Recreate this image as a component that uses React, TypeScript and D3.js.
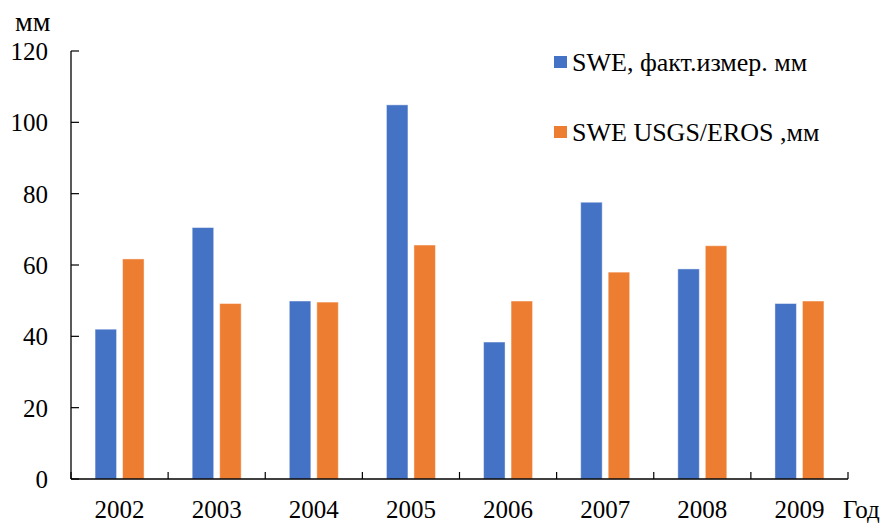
import * as d3 from "d3";

const years = ["2002", "2003", "2004", "2005", "2006", "2007", "2008", "2009"];
const sweMeasured = [42, 70.5, 49.9, 104.9, 38.4, 77.6, 58.9, 49.2];
const sweUsgs = [61.7, 49.2, 49.6, 65.6, 49.9, 58.0, 65.4, 49.9];
const yTicks = [0, 20, 40, 60, 80, 100, 120];
const seriesNames = ["SWE, факт.измер. мм", "SWE USGS/EROS ,мм"];
const colors = ["#4472C4", "#ED7D31"];

const W = 885;
const H = 523;
const font = "Liberation Serif, Times New Roman, Times, DejaVu Serif, serif";

export default function App() {
  const x = d3.scaleBand<string>().domain(years).range([71, 848]);
  const y = d3.scaleLinear().domain([0, 120]).range([479, 51]);
  const bw = x.bandwidth();
  const inner = d3
    .scaleBand<number>()
    .domain([0, 1])
    .range([bw / 2 - 24.5, bw / 2 + 24.5])
    .paddingInner(0.218);

  const series = [sweMeasured, sweUsgs];

  return (
    <svg
      width={W}
      height={H}
      style={{ position: "absolute", left: 0, top: 0, background: "#fff", fontFamily: font }}
    >
      {series.map((vals, si) =>
        vals.map((v, i) => (
          <rect
            key={`${si}-${i}`}
            x={(x(years[i]) ?? 0) + (inner(si) ?? 0)}
            y={y(v)}
            width={inner.bandwidth()}
            height={y(0) - y(v)}
            fill={colors[si]}
            stroke="#ffffff"
            strokeOpacity={0.45}
            strokeWidth={1}
          />
        ))
      )}

      {/* y axis */}
      <line x1={71} x2={71} y1={y(120)} y2={y(0)} stroke="#000" strokeWidth={1.3} />
      {yTicks.map((t) => (
        <g key={t}>
          <line x1={71} x2={79} y1={y(t)} y2={y(t)} stroke="#000" strokeWidth={1.2} />
          <text x={48} y={y(t) + 9} textAnchor="end" fontSize={25} fill="#000">
            {t}
          </text>
        </g>
      ))}

      {/* x axis */}
      <line x1={71} x2={848} y1={y(0)} y2={y(0)} stroke="#000" strokeWidth={1.3} />
      {[...years.map((d) => x(d) ?? 0), 848].map((px, i) => (
        <line key={i} x1={px} x2={px} y1={y(0)} y2={y(0) - 7} stroke="#000" strokeWidth={1.2} />
      ))}
      {years.map((d) => (
        <text
          key={d}
          x={(x(d) ?? 0) + bw / 2}
          y={518}
          textAnchor="middle"
          fontSize={25}
          fill="#000"
        >
          {d}
        </text>
      ))}

      <text x={15} y={31} fontSize={28} fill="#000">
        мм
      </text>
      <text x={843} y={518} fontSize={25} fill="#000">
        Год
      </text>

      {/* legend */}
      {seriesNames.map((name, i) => (
        <g key={name} transform={`translate(554, ${56 + i * 70})`}>
          <rect x={0} y={0} width={13} height={12} fill={colors[i]} />
          <text x={18} y={15} fontSize={26} fill="#000">
            {name}
          </text>
        </g>
      ))}
    </svg>
  );
}
